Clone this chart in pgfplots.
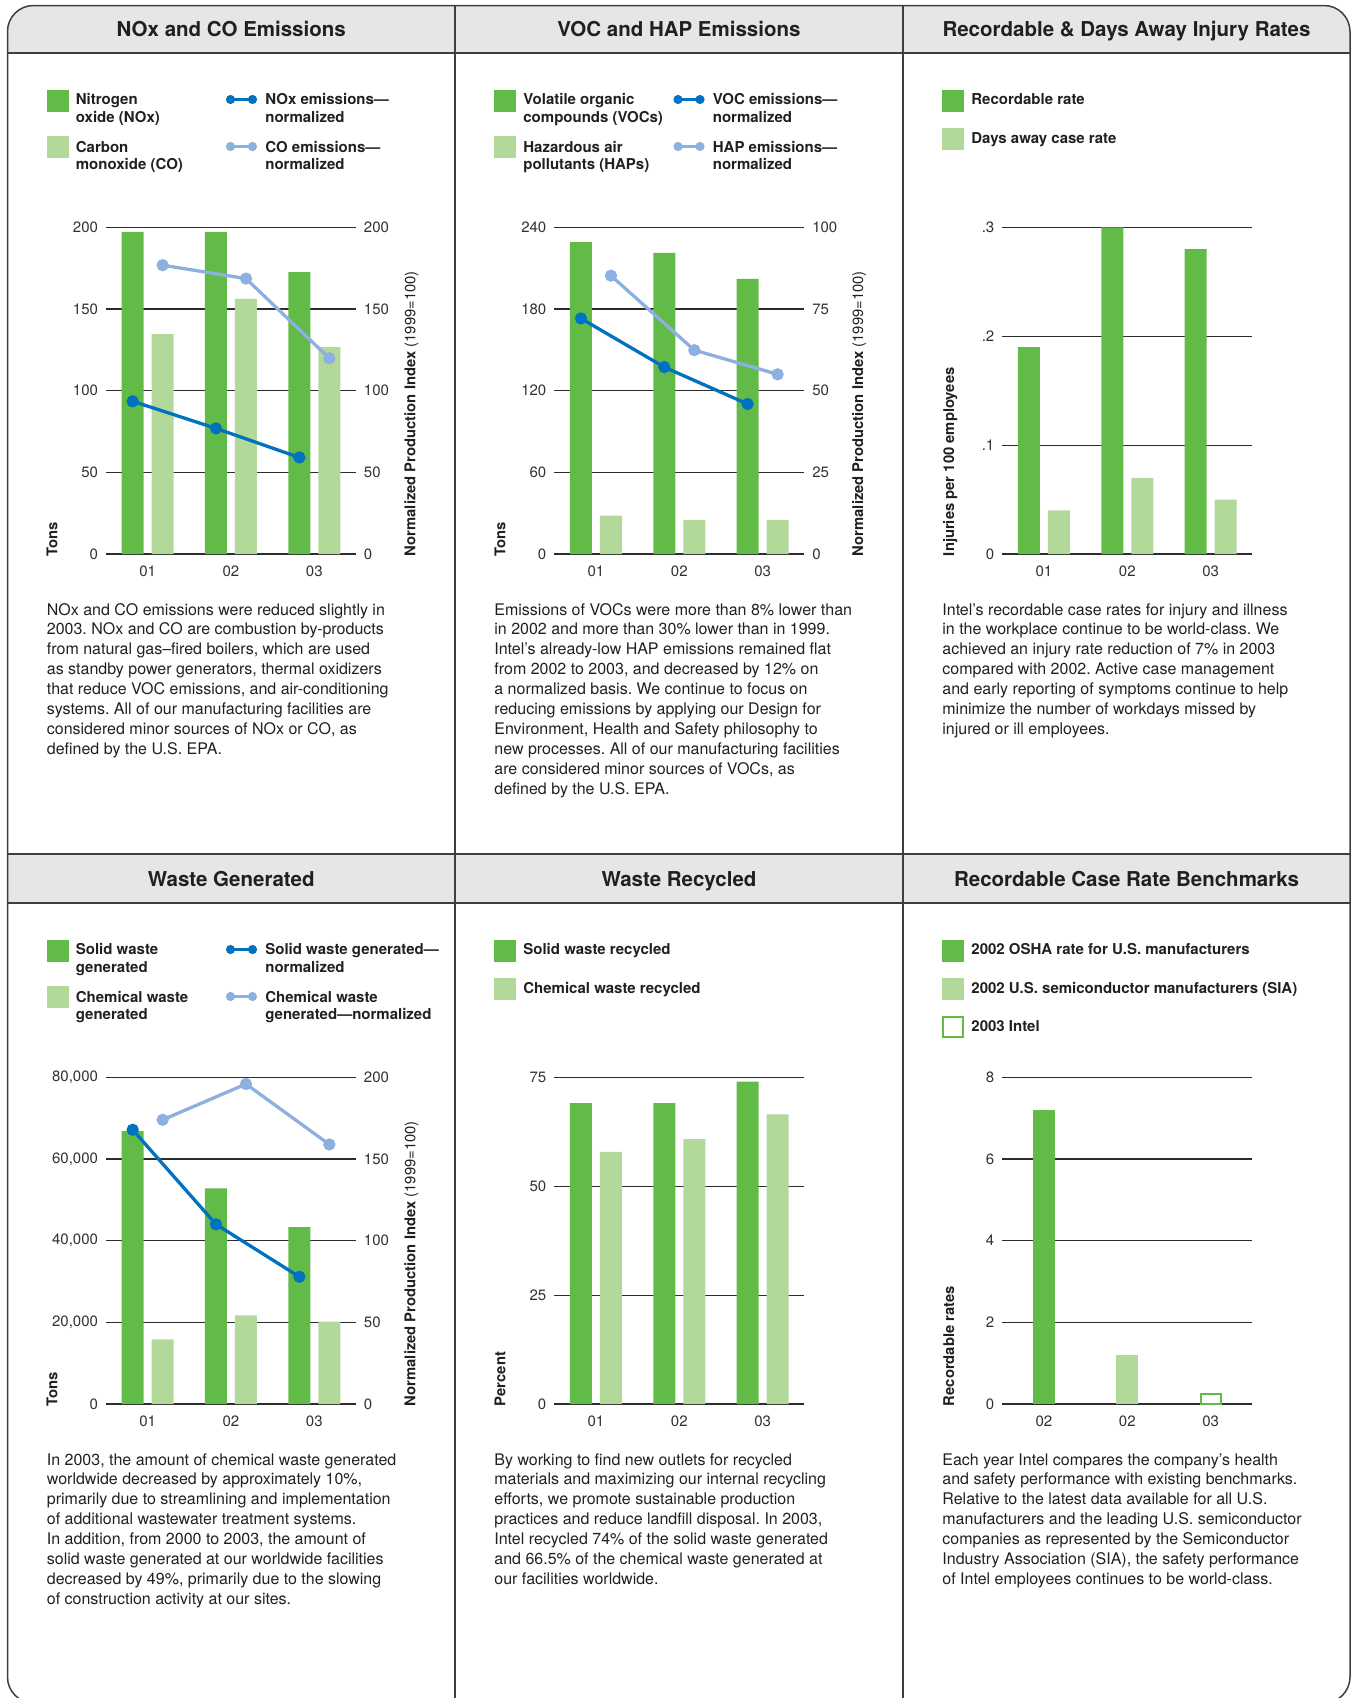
\documentclass[border=0pt]{standalone}
\usepackage{fontspec}
\setmainfont{TeX Gyre Heros}
\usepackage{pgfplots}
\pgfplotsset{compat=1.18}
\frenchspacing

\definecolor{dkgreen}{RGB}{98,186,71}
\definecolor{ltgreen}{RGB}{178,216,154}
\definecolor{nblue}{RGB}{0,114,192}
\definecolor{lblue}{RGB}{140,177,224}
\definecolor{hdrgray}{RGB}{229,230,231}
\definecolor{framec}{RGB}{62,62,62}
\definecolor{txt}{RGB}{35,31,32}
\definecolor{gridc}{RGB}{45,45,45}
\definecolor{tickc}{RGB}{50,50,50}

\newcommand\bodyfont{\fontsize{8}{9.95}\selectfont}
\newcommand\legfont{\fontsize{7.5}{8.75}\selectfont\bfseries}
\newcommand\titlefont{\fontsize{10.25}{12}\selectfont\bfseries}
\newcommand\tickfont{\fontsize{7.5}{9}\selectfont}
\newcommand\labfont{\fontsize{7.4}{9}\selectfont\bfseries}

% a block of lines; its baseline is the baseline of the first line
\newcommand\stack[2][9.95pt]{\vtop{\baselineskip=#1\relax\lineskiplimit=-50pt\relax #2}}
\newcommand\LL[1]{\hbox{#1}}

% legend pieces (picture units: 1 unit = 0.5pt, y runs downwards)
\newcommand\swatch[3]{\fill[#3] (#1,#2) rectangle ++(22,22);}
\newcommand\openswatch[2]{\draw[dkgreen, line width=1pt] (#1+1,#2+1) rectangle ++(20,20);}
\newcommand\lineicon[3]{\draw[#3, line width=1.7pt] (#1,#2) -- ++(22,0);
  \fill[#3] (#1,#2) circle[radius=2.3pt]; \fill[#3] (#1+22,#2) circle[radius=2.3pt];}
\newcommand\legtext[3]{\node[anchor=base west, inner sep=0pt, font=\legfont, text=txt] at (#1,#2) {\stack[8.75pt]{#3}};}
\newcommand\bodytext[3]{\node[anchor=base west, inner sep=0pt, font=\bodyfont, text=txt] at (#1,#2) {\stack{#3}};}
\newcommand\vlabel[3]{\node[rotate=90, anchor=base west, inner sep=0pt, font=\labfont, text=txt] at (#1,#2) {#3};}
\newcommand\npi{Normalized Production Index {\mdseries (1999=100)}}

\pgfplotsset{
  base/.style={
    scale only axis, width=125pt, height=163.35pt,
    xmin=0.5, xmax=3.5, ymin=0,
    anchor=south west,
    axis line style={draw=none}, tick style={draw=none},
    clip=false, scaled y ticks=false,
    /pgf/number format/assume math mode=true,
    tick label style={font=\tickfont, text=tickc},
  },
  leftax/.style={base,
    xtick={1,2,3}, xticklabels={01,02,03},
    ymajorgrids, major grid style={draw=gridc, line width=0.6pt},
    xticklabel style={inner sep=0pt, yshift=-1.6pt},
    yticklabel style={anchor=east, inner sep=0pt, xshift=-3.8pt},
  },
  rightax/.style={base,
    xtick=\empty, yticklabel pos=right,
    yticklabel style={anchor=west, inner sep=0pt, xshift=3.8pt},
  },
  pairbars/.style={ybar=4pt, bar width=11pt},
  dline/.style={nblue, line width=1.65pt, mark=*, mark size=2.2pt,
    mark options={fill=nblue, draw=none}, xshift=-7.5pt},
  lline/.style={lblue, line width=1.65pt, mark=*, mark size=2.2pt,
    mark options={fill=lblue, draw=none}, xshift=7.5pt},
}

\begin{document}
\begin{tikzpicture}[x=0.5pt, y=-0.5pt]
\useasboundingbox (0,0) rectangle (1357,1698);

% panel frame and header bands
\begin{scope}
  \clip[rounded corners=13pt] (7.5,5.5) rectangle (1350,1703);
  \fill[hdrgray] (0,0) rectangle (1357,53);
  \fill[hdrgray] (0,854) rectangle (1357,903);
\end{scope}
\draw[framec, line width=0.75pt] (7.5,53) -- (1350,53) (7.5,854) -- (1350,854)
  (7.5,903) -- (1350,903) (455,5.5) -- (455,1703) (903,5.5) -- (903,1703);
\draw[framec, line width=0.75pt, rounded corners=13pt] (7.5,5.5) rectangle (1350,1703);

% titles
\begin{scope}[every node/.style={font=\titlefont, text=txt, anchor=base}]
  \node at (231.25,36) {NOx and CO Emissions};
  \node at (679,36) {VOC and HAP Emissions};
  \node at (1126.5,36) {Recordable \& Days Away Injury Rates};
  \node at (231.25,886) {Waste Generated};
  \node at (679,886) {Waste Recycled};
  \node at (1126.5,886) {Recordable Case Rate Benchmarks};
\end{scope}

% ---------- NOx and CO ----------
\swatch{46.5}{89.5}{dkgreen}
\swatch{46.5}{136}{ltgreen}
\legtext{75.5}{104.6}{\LL{Nitrogen}\LL{oxide (NOx)}}
\legtext{75.5}{152}{\LL{Carbon}\LL{monoxide (CO)}}
\lineicon{230.5}{99.5}{nblue}
\lineicon{230.5}{146.5}{lblue}
\legtext{265}{104.6}{\LL{NOx emissions—}\LL{normalized}}
\legtext{265}{152}{\LL{CO emissions—}\LL{normalized}}

\begin{axis}[leftax, pairbars, at={(53pt,-277pt)}, ymax=200,
  ytick={0,50,100,150,200}, yticklabels={0,50,100,150,200}]
  \addplot[fill=dkgreen, draw=none] coordinates {(1,197.2) (2,197.2) (3,172.6)};
  \addplot[fill=ltgreen, draw=none] coordinates {(1,134.6) (2,156.2) (3,126.6)};
\end{axis}
\begin{axis}[rightax, at={(53pt,-277pt)}, ymax=200,
  ytick={0,50,100,150,200}, yticklabels={0,50,100,150,200}]
  \addplot[dline] coordinates {(1,93.5) (2,76.9) (3,59.1)};
  \addplot[lline] coordinates {(1,176.8) (2,168.6) (3,119.8)};
\end{axis}
\vlabel{57.3}{556.5}{Tons}
\vlabel{415.3}{556.5}{\npi}

\bodytext{46.5}{615}{%
\LL{NOx and CO emissions were reduced slightly in}
\LL{2003. NOx and CO are combustion by-products}
\LL{from natural gas–fired boilers, which are used}
\LL{as standby power generators, thermal oxidizers}
\LL{that reduce VOC emissions, and air-conditioning}
\LL{systems. All of our manufacturing facilities are}
\LL{considered minor sources of NOx or CO, as}
\LL{defined by the U.S. EPA.}}

% ---------- VOC and HAP ----------
\swatch{494}{89.5}{dkgreen}
\swatch{494}{136}{ltgreen}
\legtext{523}{104.6}{\LL{Volatile organic}\LL{compounds (VOCs)}}
\legtext{523}{152}{\LL{Hazardous air}\LL{pollutants (HAPs)}}
\lineicon{678}{99.5}{nblue}
\lineicon{678}{146.5}{lblue}
\legtext{712.5}{104.6}{\LL{VOC emissions—}\LL{normalized}}
\legtext{712.5}{152}{\LL{HAP emissions—}\LL{normalized}}

\begin{axis}[leftax, pairbars, at={(277.15pt,-277pt)}, ymax=240,
  ytick={0,60,120,180,240}, yticklabels={0,60,120,180,240}]
  \addplot[fill=dkgreen, draw=none] coordinates {(1,229.2) (2,221.2) (3,202.1)};
  \addplot[fill=ltgreen, draw=none] coordinates {(1,28.2) (2,25.0) (3,25.0)};
\end{axis}
\begin{axis}[rightax, at={(277.15pt,-277pt)}, ymax=100,
  ytick={0,25,50,75,100}, yticklabels={0,25,50,75,100}]
  \addplot[dline] coordinates {(1,72.1) (2,57.2) (3,45.9)};
  \addplot[lline] coordinates {(1,85.2) (2,62.4) (3,55.0)};
\end{axis}
\vlabel{505.3}{556.5}{Tons}
\vlabel{863}{556.5}{\npi}

\bodytext{494}{615}{%
\LL{Emissions of VOCs were more than 8\% lower than}
\LL{in 2002 and more than 30\% lower than in 1999.}
\LL{Intel’s already-low HAP emissions remained flat}
\LL{from 2002 to 2003, and decreased by 12\% on}
\LL{a normalized basis. We continue to focus on}
\LL{reducing emissions by applying our Design for}
\LL{Environment, Health and Safety philosophy to}
\LL{new processes. All of our manufacturing facilities}
\LL{are considered minor sources of VOCs, as}
\LL{defined by the U.S. EPA.}}

% ---------- Injury rates ----------
\swatch{942}{89.5}{dkgreen}
\swatch{942}{128}{ltgreen}
\legtext{971}{104}{\LL{Recordable rate}}
\legtext{971}{143}{\LL{Days away case rate}}

\begin{axis}[leftax, pairbars, at={(501.15pt,-277pt)}, ymax=0.3,
  ytick={0,0.1,0.2,0.3}, yticklabels={0,.1,.2,.3}]
  \addplot[fill=dkgreen, draw=none] coordinates {(1,0.19) (2,0.30) (3,0.28)};
  \addplot[fill=ltgreen, draw=none] coordinates {(1,0.04) (2,0.07) (3,0.05)};
\end{axis}
\vlabel{954}{556.5}{Injuries per 100 employees}

\bodytext{942}{615}{%
\LL{Intel’s recordable case rates for injury and illness}
\LL{in the workplace continue to be world-class. We}
\LL{achieved an injury rate reduction of 7\% in 2003}
\LL{compared with 2002. Active case management}
\LL{and early reporting of symptoms continue to help}
\LL{minimize the number of workdays missed by}
\LL{injured or ill employees.}}

% ---------- Waste generated ----------
\swatch{46.5}{939.5}{dkgreen}
\swatch{46.5}{986}{ltgreen}
\legtext{75.5}{954.6}{\LL{Solid waste}\LL{generated}}
\legtext{75.5}{1002}{\LL{Chemical waste}\LL{generated}}
\lineicon{230.5}{949.5}{nblue}
\lineicon{230.5}{996.5}{lblue}
\legtext{265}{954.6}{\LL{Solid waste generated—}\LL{normalized}}
\legtext{265}{1002}{\LL{Chemical waste}\LL{generated—normalized}}

\begin{axis}[leftax, pairbars, at={(53pt,-702pt)}, ymax=80000,
  ytick={0,20000,40000,60000,80000},
  yticklabels={0,{20,000},{40,000},{60,000},{80,000}}]
  \addplot[fill=dkgreen, draw=none] coordinates {(1,66800) (2,52800) (3,43300)};
  \addplot[fill=ltgreen, draw=none] coordinates {(1,15800) (2,21700) (3,20200)};
\end{axis}
\begin{axis}[rightax, at={(53pt,-702pt)}, ymax=200,
  ytick={0,50,100,150,200}, yticklabels={0,50,100,150,200}]
  \addplot[dline] coordinates {(1,167.9) (2,110.0) (3,77.9)};
  \addplot[lline] coordinates {(1,174.0) (2,195.9) (3,158.9)};
\end{axis}
\vlabel{57.3}{1406.5}{Tons}
\vlabel{415.3}{1406.5}{\npi}

\bodytext{46.5}{1465}{%
\LL{In 2003, the amount of chemical waste generated}
\LL{worldwide decreased by approximately 10\%,}
\LL{primarily due to streamlining and implementation}
\LL{of additional wastewater treatment systems.}
\LL{In addition, from 2000 to 2003, the amount of}
\LL{solid waste generated at our worldwide facilities}
\LL{decreased by 49\%, primarily due to the slowing}
\LL{of construction activity at our sites.}}

% ---------- Waste recycled ----------
\swatch{494}{939.5}{dkgreen}
\swatch{494}{978}{ltgreen}
\legtext{523}{954}{\LL{Solid waste recycled}}
\legtext{523}{993}{\LL{Chemical waste recycled}}

\begin{axis}[leftax, pairbars, at={(277.15pt,-702pt)}, ymax=75,
  ytick={0,25,50,75}, yticklabels={0,25,50,75}]
  \addplot[fill=dkgreen, draw=none] coordinates {(1,69.1) (2,69.1) (3,74.0)};
  \addplot[fill=ltgreen, draw=none] coordinates {(1,57.9) (2,60.8) (3,66.5)};
\end{axis}
\vlabel{505.3}{1406.5}{Percent}

\bodytext{494}{1465}{%
\LL{By working to find new outlets for recycled}
\LL{materials and maximizing our internal recycling}
\LL{efforts, we promote sustainable production}
\LL{practices and reduce landfill disposal. In 2003,}
\LL{Intel recycled 74\% of the solid waste generated}
\LL{and 66.5\% of the chemical waste generated at}
\LL{our facilities worldwide.}}

% ---------- Benchmarks ----------
\swatch{942}{939.5}{dkgreen}
\swatch{942}{978}{ltgreen}
\openswatch{942}{1016}
\legtext{971}{954}{\LL{2002 OSHA rate for U.S. manufacturers}}
\legtext{971}{993}{\LL{2002 U.S. semiconductor manufacturers (SIA)}}
\legtext{971}{1031}{\LL{2003 Intel}}

\begin{axis}[leftax, ybar, bar width=11pt, at={(501.15pt,-702pt)}, ymax=8,
  xticklabels={02,02,03},
  ytick={0,2,4,6,8}, yticklabels={0,2,4,6,8}]
  \addplot[fill=dkgreen, draw=none, bar shift=0pt] coordinates {(1,7.2)};
  \addplot[fill=ltgreen, draw=none, bar shift=0pt] coordinates {(2,1.2)};
  \addplot[fill=white, draw=dkgreen, line width=1pt, bar width=10pt, bar shift=0pt] coordinates {(3,0.25)};
\end{axis}
\vlabel{954}{1406.5}{Recordable rates}

\bodytext{942}{1465}{%
\LL{Each year Intel compares the company’s health}
\LL{and safety performance with existing benchmarks.}
\LL{Relative to the latest data available for all U.S.}
\LL{manufacturers and the leading U.S. semiconductor}
\LL{companies as represented by the Semiconductor}
\LL{Industry Association (SIA), the safety performance}
\LL{of Intel employees continues to be world-class.}}

\end{tikzpicture}
\end{document}
